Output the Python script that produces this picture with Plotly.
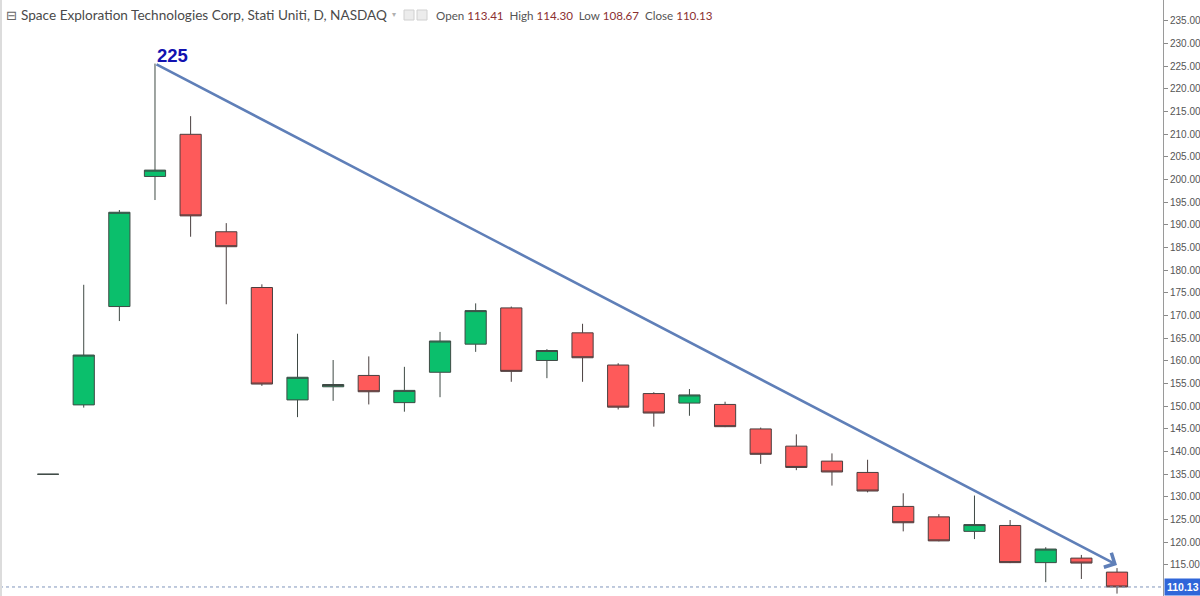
import plotly.graph_objects as go

# ---- data ----
idx = list(range(31))
opens  = [135.0, 150.3, 172.0, 200.7, 210.0, 188.5, 176.2, 151.4, 154.3, 156.8,
          150.8, 157.5, 163.7, 171.7, 160.1, 166.2, 159.1, 152.8, 150.7, 150.4,
          145.0, 141.2, 137.9, 135.4, 127.9, 125.6, 122.4, 123.7, 115.5, 116.5, 113.41]
highs  = [135.0, 176.8, 193.3, 225.6, 214.0, 190.4, 176.9, 166.0, 160.2, 161.0,
          158.7, 166.4, 172.7, 172.0, 162.6, 168.2, 159.5, 153.1, 153.8, 151.0,
          145.3, 143.8, 139.6, 138.2, 130.8, 126.2, 130.3, 124.9, 118.9, 117.2, 114.30]
lows   = [135.0, 149.7, 168.8, 195.5, 187.4, 172.5, 154.5, 147.6, 151.2, 150.4,
          148.8, 152.0, 162.0, 155.4, 156.2, 155.4, 149.3, 145.5, 147.9, 145.4,
          137.3, 135.9, 132.5, 131.0, 122.4, 120.2, 120.7, 115.4, 111.2, 111.9, 108.67]
closes = [135.0, 161.3, 192.8, 202.1, 192.0, 185.2, 154.9, 156.4, 154.8, 153.2,
          153.5, 164.4, 171.1, 157.7, 162.3, 160.7, 149.8, 148.5, 152.5, 145.5,
          139.4, 136.5, 135.5, 131.3, 124.3, 120.3, 123.9, 115.5, 118.5, 115.4, 110.13]

peak_idx, peak_val = 3, 225.6
arrow_end_idx, arrow_end_val = 30, 115.0
last_price = 110.13
tick_vals = list(range(115, 240, 5))
tick_text = [f"{v:.2f}" for v in tick_vals]

W, H = 1200, 596
ML, MR, MT, MB = 0, 37, 0, 0
PW = W - ML - MR

def px(xp):
    return xp / PW

fig = go.Figure()
fig.add_trace(go.Candlestick(
    x=idx, open=opens, high=highs, low=lows, close=closes,
    increasing=dict(fillcolor="#0bbf6c", line=dict(color="#3f4a45", width=1)),
    decreasing=dict(fillcolor="#fe5a5a", line=dict(color="#4a3f3f", width=1)),
    whiskerwidth=0, showlegend=False, hoverinfo="skip",
))

annotations = [
    # trend arrow
    dict(x=arrow_end_idx, y=arrow_end_val, ax=peak_idx, ay=peak_val,
         xref="x", yref="y", axref="x", ayref="y", text="", showarrow=True,
         arrowhead=4, arrowsize=1.2, arrowwidth=2.6, arrowcolor="#5f7fb8",
         standoff=0, startstandoff=0),
    # peak label
    dict(x=peak_idx, y=peak_val, xref="x", yref="y", text="<b>225</b>",
         showarrow=False, xanchor="left", yanchor="bottom", xshift=0, yshift=-4,
         font=dict(family="Liberation Sans, Arial", size=18.5, color="#1212b0")),
    # last price label on axis
    dict(x=1, y=last_price, xref="paper", yref="y", text="<b>110.13</b>",
         showarrow=False, xanchor="left", yanchor="middle", xshift=1,
         bgcolor="#2f66d9", borderpad=2,
         font=dict(family="Liberation Sans, Arial", size=10.5, color="white")),
    # header
    dict(x=px(4), y=1, xref="paper", yref="paper", text="⊟", showarrow=False,
         xanchor="left", yanchor="middle", yshift=-15,
         font=dict(family="DejaVu Sans", size=13, color="#666666")),
    dict(x=px(19), y=1, xref="paper", yref="paper",
         text="Space Exploration Technologies Corp, Stati Uniti, D, NASDAQ",
         showarrow=False, xanchor="left", yanchor="middle", yshift=-15,
         font=dict(family="Lato", size=13.6, color="#4a4a4a")),
    dict(x=px(390), y=1, xref="paper", yref="paper", text="▾", showarrow=False,
         xanchor="left", yanchor="middle", yshift=-14,
         font=dict(family="DejaVu Sans", size=8, color="#b0b0b0")),
    dict(x=px(434), y=1, xref="paper", yref="paper",
         text=("Open <span style='color:#8b2f2f'>113.41</span>&nbsp; "
               "High <span style='color:#8b2f2f'>114.30</span>&nbsp; "
               "Low <span style='color:#8b2f2f'>108.67</span>&nbsp; "
               "Close <span style='color:#8b2f2f'>110.13</span>"),
         showarrow=False, xanchor="left", yanchor="middle", yshift=-15,
         font=dict(family="Lato", size=11.6, color="#555555")),
]

shapes = [
    dict(type="line", xref="paper", yref="y", x0=0, x1=1, y0=last_price, y1=last_price,
         line=dict(color="#8096bb", width=1, dash="dot")),
    dict(type="line", xref="paper", yref="paper", x0=px(1), x1=px(1), y0=0, y1=1,
         line=dict(color="#dcdcdc", width=2)),
    # header icons
    dict(type="rect", xref="paper", yref="paper", x0=px(404), x1=px(414),
         y0=1 - 20 / H, y1=1 - 10 / H, line=dict(color="#d0d0d0", width=1), fillcolor="#ececec"),
    dict(type="rect", xref="paper", yref="paper", x0=px(417), x1=px(427),
         y0=1 - 20 / H, y1=1 - 10 / H, line=dict(color="#d0d0d0", width=1), fillcolor="#ececec"),
]

x0 = 48.1 / 35.63
fig.update_layout(
    width=W, height=H,
    margin=dict(l=ML, r=MR, t=MT, b=MB),
    paper_bgcolor="white", plot_bgcolor="white",
    boxgap=0.15, boxgroupgap=0.3,
    xaxis=dict(range=[-x0, (PW - 48.1) / 35.63], showgrid=False, zeroline=False,
               showticklabels=False, ticks="", showline=False,
               rangeslider=dict(visible=False)),
    yaxis=dict(range=[108.14, 239.63], side="right", showgrid=False, zeroline=False,
               tickvals=tick_vals, ticktext=tick_text, ticks="outside", ticklen=4,
               tickcolor="#8a8a8a", showline=True, linecolor="#9a9a9a", linewidth=1,
               tickfont=dict(family="Liberation Sans, Arial", size=10, color="#555555")),
    annotations=annotations,
    shapes=shapes,
    showlegend=False,
)

fig.write_html("out.html")
